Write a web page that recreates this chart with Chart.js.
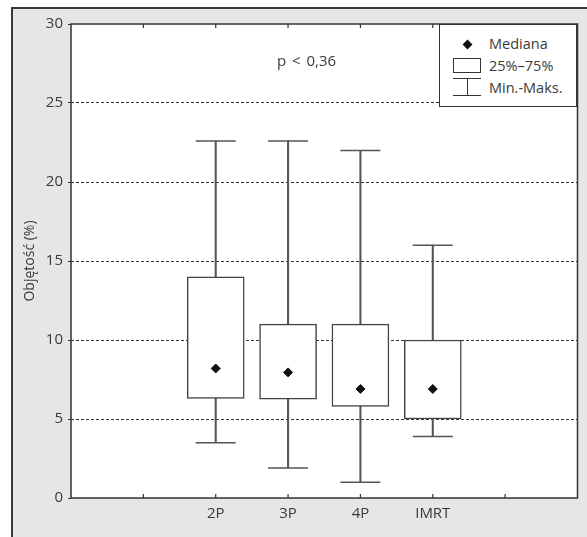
<!DOCTYPE html>
<html>
<head>
<meta charset="utf-8">
<script src="https://cdn.jsdelivr.net/npm/chart.js@4.4.1/dist/chart.umd.min.js"></script>
<style>
  html, body { margin: 0; padding: 0; background: #fff; }
  body { width: 587px; height: 537px; position: relative; overflow: hidden; font-family: "Open Sans", sans-serif; color: #3a3a3a; }
  #frame { position: absolute; left: 11px; top: 7px; width: 600px; height: 560px; background: #e6e6e7; border-left: 2px solid #3a3a3a; border-top: 2px solid #3a3a3a; box-sizing: border-box; }
  /* canvas is a bit wider than the page: chart.js keeps ~11px extra on the right */
  #wrap { position: absolute; left: 0; top: 0; width: 587px; height: 537px; overflow: hidden; }
  .note { position: absolute; font-size: 14.5px; line-height: 16px; white-space: nowrap; }
  #legend { position: absolute; left: 439px; top: 24px; width: 138px; height: 83px; background: #fff; border: 1.5px solid #333; box-sizing: border-box; }
  .lg { position: absolute; }
</style>
</head>
<body>
<div id="frame"></div>
<div id="wrap"><canvas id="boxChart" width="599" height="537"></canvas></div>
<div class="note" style="left:277px; top:52px; font-size:15px; word-spacing:2px;">p &lt; 0,36</div>
<div id="legend">
  <div class="lg" style="left:24px; top:16px; width:7px; height:7px; background:#111; transform:rotate(45deg);"></div>
  <div class="lg note" style="left:49px; top:11px;">Mediana</div>
  <div class="lg" style="left:13px; top:33px; width:28px; height:15px; border:1px solid #333; box-sizing:border-box;"></div>
  <div class="lg note" style="left:49px; top:33px;">25%–75%</div>
  <div class="lg" style="left:13px; top:53px; width:28px; height:1px; background:#333;"></div>
  <div class="lg" style="left:27px; top:53px; width:1px; height:17px; background:#333;"></div>
  <div class="lg" style="left:13px; top:70px; width:28px; height:1px; background:#333;"></div>
  <div class="lg note" style="left:49px; top:55px;">Min.-Maks.</div>
</div>
<script>
const categories = ['2P', '3P', '4P', 'IMRT'];
const minValues = [3.5, 1.9, 1.0, 3.9];
const q1Values = [6.3, 6.25, 5.8, 5.0];
const medianValues = [8.2, 7.95, 6.9, 6.9];
const q3Values = [14, 11, 11, 10];
const maxValues = [22.6, 22.6, 22.0, 16.0];
const yTicks = [0, 5, 10, 15, 20, 25, 30];

// categories sit at x = 2..5 on a 0..7 axis (empty slot each side)
const xOf = i => i + 2;

const boxes = categories.map((c, i) => ({ x: xOf(i), y: [q1Values[i], q3Values[i]] }));
const stems = categories.map((c, i) => ({ x: xOf(i), y: [minValues[i], maxValues[i]] }));
const caps = [];
categories.forEach((c, i) => {
    caps.push({ x: xOf(i), y: maxValues[i] });
    caps.push({ x: xOf(i), y: minValues[i] });
});
const medians = categories.map((c, i) => ({ x: xOf(i), y: medianValues[i] }));

const plotFrame = {
    id: 'plotFrame',
    beforeDraw(chart) {
        const { ctx, chartArea: a } = chart;
        ctx.save();
        ctx.fillStyle = '#fff';
        ctx.fillRect(a.left, a.top, a.right - a.left, a.bottom - a.top);
        ctx.restore();
    },
    afterDraw(chart) {
        const { ctx, chartArea: a } = chart;
        const xs = chart.scales.x;
        ctx.save();
        ctx.strokeStyle = '#333';
        ctx.lineWidth = 1.5;
        ctx.strokeRect(a.left, a.top, a.right - a.left, a.bottom - a.top);
        // small inward ticks, top and bottom
        ctx.lineWidth = 1.2;
        ctx.beginPath();
        for (let v = 1; v <= 6; v++) {
            const px = xs.getPixelForValue(v);
            ctx.moveTo(px, a.bottom);
            ctx.lineTo(px, a.bottom - 4);
            ctx.moveTo(px, a.top);
            ctx.lineTo(px, a.top + 4);
        }
        ctx.stroke();
        ctx.restore();
    }
};

new Chart(document.getElementById('boxChart').getContext('2d'), {
    type: 'scatter',
    data: {
        datasets: [
            {
                type: 'bar',
                data: stems,
                backgroundColor: '#555',
                borderWidth: 0,
                barThickness: 1.4,
                grouped: false,
                order: 4
            },
            {
                type: 'bar',
                data: boxes,
                backgroundColor: '#fff',
                borderColor: '#444',
                borderWidth: 1.5,
                borderSkipped: false,
                barThickness: 57,
                grouped: false,
                order: 3
            },
            {
                type: 'scatter',
                data: caps,
                pointStyle: 'line',
                pointRadius: 20,
                borderColor: '#555',
                borderWidth: 1.5,
                order: 2
            },
            {
                type: 'scatter',
                data: medians,
                pointStyle: 'rectRot',
                pointRadius: 4.5,
                backgroundColor: '#111',
                borderColor: '#111',
                borderWidth: 1,
                order: 1
            }
        ]
    },
    options: {
        responsive: false,
        animation: false,
        events: [],
        layout: { padding: { left: 0, top: 24, right: 10, bottom: 0 } },
        plugins: { legend: { display: false }, tooltip: { enabled: false } },
        scales: {
            x: {
                type: 'linear',
                min: 0,
                max: 7,
                offset: false,
                grid: { display: false, drawTicks: false },
                border: { display: false },
                afterBuildTicks: s => { s.ticks = [1, 2, 3, 4, 5, 6].map(v => ({ value: v })); },
                ticks: {
                    padding: 7,
                    color: '#3a3a3a',
                    font: { family: 'Open Sans', size: 15 },
                    callback: v => categories[v - 2] || ''
                },
                afterFit: s => { s.height = 39; s.paddingLeft = 0; s.paddingRight = 0; }
            },
            y: {
                min: 0,
                max: 30,
                afterBuildTicks: s => { s.ticks = yTicks.map(v => ({ value: v })); },
                grid: {
                    color: ctx => (ctx.tick && (ctx.tick.value === 0 || ctx.tick.value === 30)) ? 'rgba(0,0,0,0)' : '#333',
                    lineWidth: 1,
                    drawTicks: true,
                    tickLength: 3,
                    tickColor: '#333',
                    tickBorderDash: []
                },
                border: { display: false, dash: [3, 2] },
                ticks: {
                    padding: 5,
                    color: '#3a3a3a',
                    font: { family: 'Open Sans', size: 15 }
                },
                title: {
                    display: true,
                    text: 'Objętość (%)',
                    color: '#3a3a3a',
                    font: { family: 'Open Sans', size: 14 },
                    padding: { top: 22, bottom: 0 }
                },
                afterFit: s => { s.width = 71; }
            }
        }
    },
    plugins: [plotFrame]
});
</script>
</body>
</html>
